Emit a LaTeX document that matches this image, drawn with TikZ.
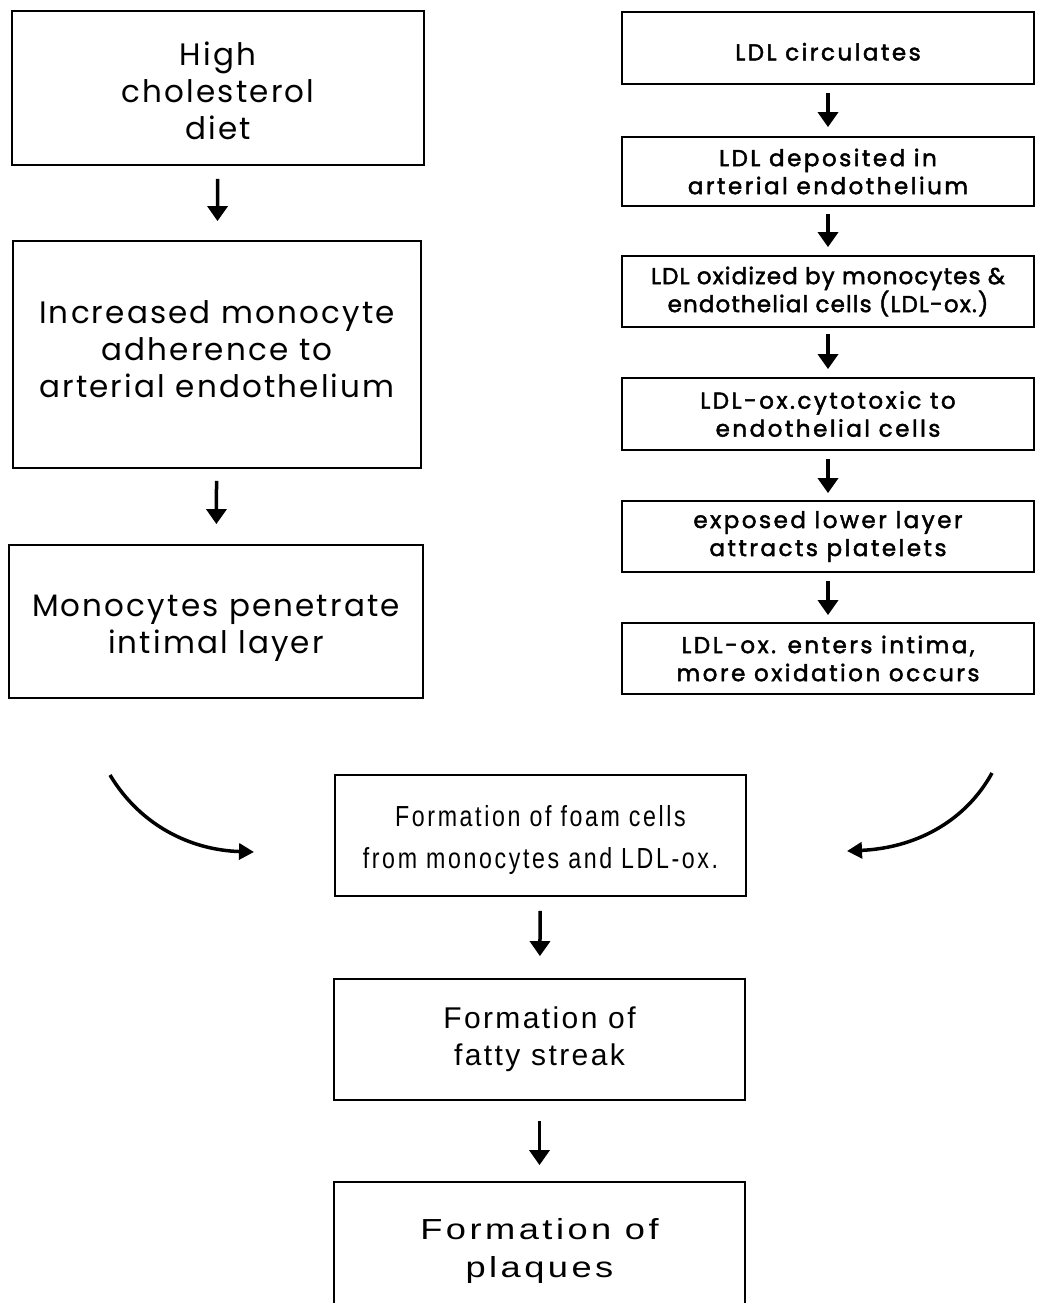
\documentclass[tikz,border=0pt]{standalone}
\usepackage{fontspec}
\usetikzlibrary{arrows.meta}
\newfontfamily\gfont[LetterSpace=7]{Poppins}
\newfontfamily\gfontb[FakeBold=2,LetterSpace=11]{Poppins}
\newfontfamily\gfontc[FakeBold=2,LetterSpace=5]{Poppins}
\newfontfamily\hfont[LetterSpace=8]{Liberation Sans}
\newfontfamily\hnfont[FakeStretch=0.8,LetterSpace=9]{Liberation Sans}
\newfontfamily\hwfont[FakeStretch=1.25,LetterSpace=12]{Liberation Sans}
\tikzset{
  box/.style={draw, line width=1.8pt, inner sep=0pt, align=center},
  lbox/.style={box, font=\gfont\fontsize{31}{37}\selectfont},
  rbox/.style={box, minimum width=412pt, font=\gfontb\fontsize{23}{28}\selectfont},
  arr/.style={line width=3.5pt, -{Triangle[width=20pt,length=15pt]}},
  carr/.style={line width=3.5pt, -{Triangle[width=16pt,length=15pt]}},
}
\begin{document}
\begin{tikzpicture}[x=1pt,y=-1pt]
\clip (0,0) rectangle (1036,1303);
\fill[white] (0,0) rectangle (1036,1303);
% left column
\node[lbox, minimum width=412pt, minimum height=154pt] (b1) at (218,88) {\rule{0pt}{30pt}High\\cholesterol\\diet};
\node[lbox, minimum width=408pt, minimum height=227pt] (b2) at (217,354.5) {Increased monocyte\\adherence to\\arterial endothelium\rule[-10pt]{0pt}{10pt}};
\node[lbox, minimum width=414pt, minimum height=153pt] (b3) at (216,621.5) {\rule{0pt}{35pt}Monocytes penetrate\\intimal layer};
% right column
\node[rbox, minimum height=72pt] (r1) at (828,48) {\rule{0pt}{25pt}LDL circulates};
\node[rbox, minimum height=69pt] (r2) at (828,171.5) {LDL deposited in\\arterial endothelium};
\node[rbox, minimum height=71pt, font=\gfontc\fontsize{23}{28}\selectfont] (r3) at (828,291.5) {LDL oxidized by monocytes \&\\endothelial cells (LDL-ox.)};
\node[rbox, minimum height=72pt] (r4) at (828,414) {LDL-ox.cytotoxic to\\endothelial cells};
\node[rbox, minimum height=71pt] (r5) at (828,536.5) {exposed lower layer\\attracts platelets};
\node[rbox, minimum height=71pt] (r6) at (828,658.5) {LDL-ox. enters intima,\\more oxidation occurs};
% centre column
\node[box, minimum width=411pt, minimum height=121pt, font=\hnfont\fontsize{29}{42}\selectfont] (c1) at (540.5,835.5) {\rule{0pt}{29pt}Formation of foam cells\\from monocytes and LDL-ox.};
\node[box, minimum width=411pt, minimum height=121pt, font=\hfont\fontsize{30}{37}\selectfont] (c2) at (539.5,1039.5) {Formation of\\fatty streak};
\node[box, minimum width=411pt, minimum height=128pt, font=\hwfont\fontsize{29}{38}\selectfont] (c3) at (539.5,1246) {\rule{0pt}{30pt}Formation of\\plaques};
% straight arrows
\draw[arr, shorten <=13pt, shorten >=19pt] (b1) -- (b2);
\draw[arr, shorten <=12pt, shorten >=20pt] (b2) -- (b3);
\draw[arr, shorten <=8pt, shorten >=9pt] (r1) -- (r2);
\draw[arr, shorten <=7pt, shorten >=8pt] (r2) -- (r3);
\draw[arr, shorten <=6pt, shorten >=8pt] (r3) -- (r4);
\draw[arr, shorten <=8pt, shorten >=7pt] (r4) -- (r5);
\draw[arr, shorten <=8pt, shorten >=7pt] (r5) -- (r6);
\draw[arr, shorten <=14pt, shorten >=22pt] (c1) -- (c2);
\draw[arr, shorten <=20pt, shorten >=16pt] (c2) -- (c3);
% curved arrows
\coordinate (la) at (110,775);
\coordinate (lb) at (254,852);
\coordinate (ra) at (992,773);
\coordinate (rb) at (847,851);
\draw[carr] (la) .. controls (140,825) and (190,850) .. (lb);
\draw[carr] (ra) .. controls (965,822) and (915,848) .. (rb);
\end{tikzpicture}
\end{document}
